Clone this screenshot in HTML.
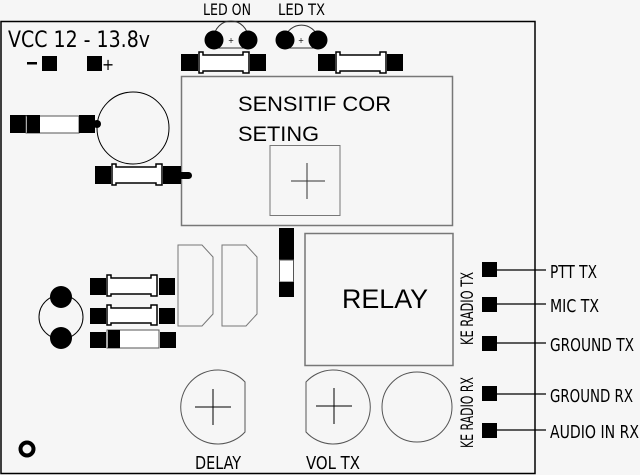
<!DOCTYPE html>
<html><head><style>
html,body{margin:0;padding:0;background:#f6f6f6;}
svg{display:block;}
text{font-family:"Liberation Sans Narrow","DejaVu Sans Condensed","Liberation Sans",sans-serif;fill:#000;}
</style></head><body>
<svg width="640" height="475" viewBox="0 0 640 475" xmlns="http://www.w3.org/2000/svg">
<rect x="0" y="0" width="640" height="475" fill="#f6f6f6"/>
<rect x="1" y="21.5" width="534" height="452" fill="none" stroke="#000" stroke-width="1.5"/>

<text x="8" y="47" font-size="22" textLength="142" lengthAdjust="spacingAndGlyphs">VCC 12 - 13.8v</text>
<text x="203" y="15" font-size="16" textLength="48" lengthAdjust="spacingAndGlyphs">LED ON</text>
<text x="278" y="15" font-size="16" textLength="47" lengthAdjust="spacingAndGlyphs">LED TX</text>
<rect x="27" y="62" width="10" height="2.5"/>
<rect x="42" y="56" width="15" height="15"/>
<rect x="87" y="56" width="15" height="15"/>
<text x="102" y="70" font-size="16">+</text>

<g stroke="#333" stroke-width="1" fill="none">
<path d="M214 38 A17 17 0 0 1 248 38"/><line x1="214" y1="48" x2="248" y2="48"/>
<path d="M285 38 A17 17 0 0 1 318 38"/><line x1="285" y1="48" x2="318" y2="48"/>
</g>
<circle cx="214" cy="40" r="9.5"/><circle cx="248" cy="40" r="9.5"/>
<circle cx="285" cy="40" r="9.5"/><circle cx="318" cy="40" r="9.5"/>
<text x="231" y="43" font-size="8" text-anchor="middle">+</text>
<text x="301" y="43" font-size="8" text-anchor="middle">+</text>

<g>
<rect x="181" y="54" width="17" height="17"/><rect x="250" y="54" width="16" height="17"/>
<path d="M199 52 h4 v3 h40 v-3 h6 v21 h-6 v-2 h-40 v2 h-4z" fill="#fff" stroke="#000" stroke-width="1.5"/>
<rect x="318" y="54" width="17" height="17"/><rect x="387" y="54" width="16" height="17"/>
<path d="M336 52 h4 v3 h40 v-3 h6 v21 h-6 v-2 h-40 v2 h-4z" fill="#fff" stroke="#000" stroke-width="1.5"/>
</g>

<rect x="181.5" y="76.5" width="271" height="149" fill="none" stroke="#777" stroke-width="1.5"/>
<text x="238" y="111" font-size="21" textLength="153" lengthAdjust="spacingAndGlyphs" style="font-family:'Liberation Sans',sans-serif">SENSITIF COR</text>
<text x="238" y="141" font-size="21" textLength="81" lengthAdjust="spacingAndGlyphs" style="font-family:'Liberation Sans',sans-serif">SETING</text>
<rect x="270" y="145.5" width="70" height="70" fill="none" stroke="#777" stroke-width="1"/>
<g stroke="#333" stroke-width="1"><line x1="291" y1="181" x2="325" y2="181"/><line x1="307" y1="163" x2="307" y2="199"/></g>

<circle cx="133" cy="128" r="36" fill="none" stroke="#000" stroke-width="1"/>
<rect x="10" y="115" width="17" height="18"/>
<rect x="26" y="116" width="53" height="17" fill="#fff" stroke="#555" stroke-width="1"/>
<rect x="27" y="115" width="13" height="18"/>
<rect x="79" y="115" width="16" height="18"/>
<circle cx="97" cy="124" r="4"/>
<rect x="95" y="166" width="16" height="18"/><rect x="163" y="166" width="18" height="18"/>
<path d="M112 166 h4 v3 h40 v-3 h6 v21 h-6 v-2 h-40 v2 h-4z" fill="#fff" stroke="#000" stroke-width="1.5" transform="translate(0,-2)"/>
<rect x="178" y="172" width="14" height="7" rx="3.5"/>

<rect x="279" y="228" width="15" height="32"/>
<rect x="279.5" y="260" width="14" height="22" fill="#fff" stroke="#555" stroke-width="1"/>
<rect x="279" y="282" width="15" height="15"/>

<rect x="305" y="233.5" width="148" height="132" fill="none" stroke="#777" stroke-width="1.5"/>
<text x="385" y="308" font-size="27" text-anchor="middle" textLength="86" lengthAdjust="spacingAndGlyphs" style="font-family:'Liberation Sans',sans-serif">RELAY</text>

<g fill="none" stroke="#777" stroke-width="1">
<path d="M178 245 h24 l11 12 v57 l-11 12 h-24z"/>
<path d="M222 245 h24 l11 12 v57 l-11 12 h-24z"/>
</g>

<circle cx="61" cy="317" r="22" fill="none" stroke="#000" stroke-width="1"/>
<circle cx="61" cy="297" r="11"/><circle cx="61" cy="338" r="11"/>

<rect x="90" y="278" width="16" height="17"/><rect x="159" y="278" width="16" height="17"/>
<path d="M107 275 h4 v3 h40 v-3 h6 v21 h-6 v-2 h-40 v2 h-4z" fill="#fff" stroke="#000" stroke-width="1.5"/>
<rect x="90" y="308" width="16" height="16"/><rect x="159" y="308" width="16" height="16"/>
<path d="M107 305 h4 v3 h40 v-3 h6 v20 h-6 v-2 h-40 v2 h-4z" fill="#fff" stroke="#000" stroke-width="1.5"/>
<rect x="90" y="332" width="16" height="16"/><rect x="160" y="332" width="16" height="16"/>
<rect x="107" y="330" width="52" height="18" fill="#fff" stroke="#555" stroke-width="1"/>
<rect x="108" y="330" width="12" height="18"/>

<g fill="none" stroke="#555" stroke-width="1">
<path d="M245 382 A37 37 0 1 0 245 432 Z"/>
<path d="M306 382 A37 37 0 1 1 306 432 Z"/>
<circle cx="417" cy="407" r="35"/>
</g>
<g stroke="#000" stroke-width="1">
<line x1="195" y1="407" x2="231" y2="407"/><line x1="213" y1="389" x2="213" y2="425"/>
<line x1="316" y1="406" x2="352" y2="406"/><line x1="334" y1="388" x2="334" y2="424"/>
</g>
<text x="195" y="469" font-size="18" textLength="46" lengthAdjust="spacingAndGlyphs">DELAY</text>
<text x="306" y="469" font-size="18" textLength="54" lengthAdjust="spacingAndGlyphs">VOL TX</text>

<circle cx="27" cy="449" r="6.5" fill="none" stroke="#000" stroke-width="4"/>

<text transform="translate(473,345) rotate(-90)" font-size="17" textLength="73" lengthAdjust="spacingAndGlyphs">KE RADIO TX</text>
<text transform="translate(473,448) rotate(-90)" font-size="17" textLength="71" lengthAdjust="spacingAndGlyphs">KE RADIO RX</text>

<g>
<rect x="482" y="262" width="15" height="15"/><rect x="482" y="297" width="15" height="15"/>
<rect x="482" y="336" width="15" height="15"/><rect x="482" y="386" width="15" height="15"/>
<rect x="482" y="423" width="15" height="15"/>
</g>
<g stroke="#000" stroke-width="1.2">
<line x1="497" y1="270" x2="546" y2="270"/><line x1="497" y1="304" x2="546" y2="304"/>
<line x1="497" y1="343" x2="546" y2="343"/><line x1="497" y1="394" x2="546" y2="394"/>
<line x1="497" y1="430" x2="546" y2="430"/>
</g>
<g font-size="18">
<text x="550" y="278" textLength="47" lengthAdjust="spacingAndGlyphs">PTT TX</text>
<text x="550" y="312" textLength="49" lengthAdjust="spacingAndGlyphs">MIC TX</text>
<text x="550" y="351" textLength="84" lengthAdjust="spacingAndGlyphs">GROUND TX</text>
<text x="550" y="402" textLength="83" lengthAdjust="spacingAndGlyphs">GROUND RX</text>
<text x="550" y="438" textLength="89" lengthAdjust="spacingAndGlyphs">AUDIO IN RX</text>
</g>
</svg>
</body></html>
